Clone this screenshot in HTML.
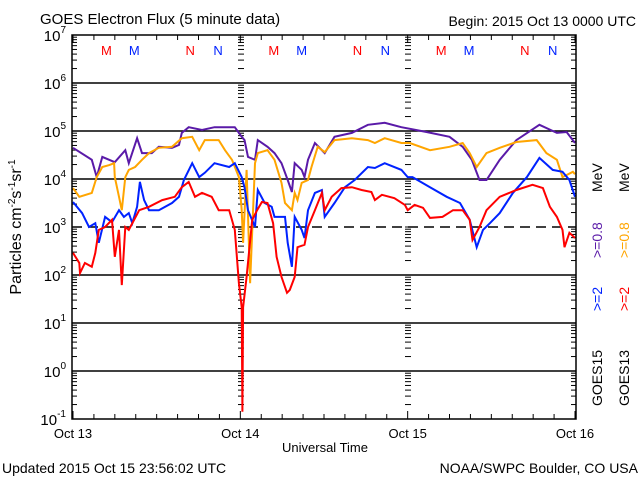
<!DOCTYPE html>
<html><head><meta charset="utf-8"><style>
html,body{margin:0;padding:0;background:#fff;}
svg{display:block;font-family:"Liberation Sans",sans-serif;}
</style></head><body>
<svg id="chart" width="640" height="480" viewBox="0 0 640 480" xmlns="http://www.w3.org/2000/svg">
<rect x="0" y="0" width="640" height="480" fill="#fff"/>
<text x="40" y="24" font-size="15">GOES Electron Flux (5 minute data)</text>
<text x="636" y="26" font-size="14" text-anchor="end">Begin: 2015 Oct 13 0000 UTC</text>
<g id="grid"></g>
<g id="ticks"></g>
<g id="series"></g>
<g id="marks"></g>
<rect x="72" y="35" width="504" height="384" fill="none" stroke="#000" stroke-width="1.5"/>
<g id="ylabels"></g>
<g id="xlabels"></g>
<text transform="translate(21,227) rotate(-90)" font-size="16" text-anchor="middle">Particles cm<tspan font-size="10" dy="-6">-2</tspan><tspan dy="6">s</tspan><tspan font-size="10" dy="-6">-1</tspan><tspan dy="6">sr</tspan><tspan font-size="10" dy="-6">-1</tspan></text>
<text x="325" y="452" font-size="13" text-anchor="middle">Universal Time</text>
<text x="2" y="473" font-size="14">Updated 2015 Oct 15 23:56:02 UTC</text>
<text x="638" y="473" font-size="14" text-anchor="end">NOAA/SWPC Boulder, CO USA</text>
<g font-size="14">
<text transform="translate(602,406) rotate(-90)">GOES15</text>
<text transform="translate(602,311) rotate(-90)" fill="#0022ff">&gt;=2</text>
<text transform="translate(602,258) rotate(-90)" fill="#5a1aa8">&gt;=0.8</text>
<text transform="translate(602,192) rotate(-90)">MeV</text>
<text transform="translate(629,406) rotate(-90)">GOES13</text>
<text transform="translate(629,311) rotate(-90)" fill="#ff0000">&gt;=2</text>
<text transform="translate(629,258) rotate(-90)" fill="#ffa500">&gt;=0.8</text>
<text transform="translate(629,192) rotate(-90)">MeV</text>
</g>
</svg>
<script>
const dayLabels = ["Oct 13","Oct 14","Oct 15","Oct 16"];
const decades = [-1,0,1,2,3,4,5,6,7];
const purpleHours = [0,2.7,3.4,4.2,6.0,7.5,8.0,9.2,9.9,11.3,12.3,14.2,15.2,15.6,16.6,18.5,20.3,23.2,24.2,24.6,25.1,26.1,26.5,27.9,28.9,29.9,30.8,31.4,31.8,32.8,33.2,33.7,34.7,36.1,37.5,40.0,42.3,44.7,47.1,50.7,54.0,55.9,57.2,58.3,59.3,61.2,63.6,66.9,69.4,70.8,72];
const purpleLog = [4.65,4.40,4.04,4.46,4.35,4.60,4.33,4.85,4.54,4.54,4.67,4.65,4.71,4.96,5.08,5.02,5.08,5.08,4.88,4.81,4.46,4.40,4.81,4.67,4.54,4.33,3.98,3.73,4.33,4.19,4.04,4.40,4.75,4.54,4.88,4.96,5.13,5.17,5.08,4.98,4.88,4.67,4.40,3.98,3.98,4.40,4.81,5.13,4.96,4.98,4.75];
const orangeHours = [0,0.9,2.7,3.4,4.2,5.2,5.9,6.0,6.6,7.0,7.5,8.0,8.9,9.9,10.9,12.3,14.2,15.6,17.1,18.1,18.9,20.9,21.8,22.8,23.8,24.2,24.4,24.9,25.4,26.1,26.5,27.9,28.9,29.9,30.4,31.4,31.8,32.2,32.8,33.7,34.2,35.1,36.1,37.5,40.0,42.3,43.3,44.7,47.1,48.3,51.2,54.0,55.9,56.9,57.9,59.3,61.2,63.6,66.5,67.9,69.4,70.2,71.7,72];
const orangeLog = [3.81,3.63,3.71,4.04,4.25,4.29,4.33,4.04,3.63,3.35,4.04,4.19,4.25,4.40,4.54,4.65,4.67,4.85,4.88,4.60,4.81,4.81,4.60,4.40,4.04,3.35,2.67,4.19,1.83,4.33,4.54,4.60,4.40,3.92,3.50,3.35,3.71,3.56,3.92,3.98,4.25,4.67,4.56,4.81,4.85,4.81,4.75,4.85,4.75,4.75,4.60,4.67,4.75,4.54,4.25,4.54,4.65,4.77,4.81,4.54,4.40,4.04,4.15,4.10];
const blueHours = [0,1.3,2.3,3.2,3.7,4.6,5.6,6.6,7.3,8.0,8.5,9.2,9.6,10.2,10.9,12.3,14.2,15.2,15.9,17.1,18.1,18.9,20.3,22.4,23.2,24.2,24.6,25.1,26.1,26.5,27.5,28.5,28.9,30.4,30.8,31.4,31.8,32.8,33.2,33.7,34.7,35.7,36.1,37.5,39.0,40.4,42.3,43.3,44.7,47.1,48.0,48.7,51.2,53.6,55.5,56.9,57.9,58.8,59.8,61.2,63.1,65.1,66.9,68.8,70.2,71.2,72];
const blueLog = [3.52,3.29,3.00,3.08,2.67,3.21,3.10,3.35,3.21,3.29,3.08,3.42,3.94,3.56,3.35,3.35,3.50,3.63,3.98,4.33,4.04,4.13,4.33,4.25,4.33,4.04,3.83,3.35,3.00,3.77,3.50,3.42,3.21,3.21,2.67,2.17,3.21,2.94,2.77,3.35,3.71,3.77,3.21,3.50,3.83,3.98,4.25,4.23,4.33,4.19,4.04,4.04,3.83,3.63,3.50,3.15,2.58,2.94,3.08,3.29,3.71,4.04,4.44,4.19,4.15,3.98,3.63];
const redHours = [0,0.9,1.0,1.7,2.7,3.2,3.7,4.6,5.6,6.0,6.6,7.0,7.5,8.0,9.5,10.9,12.8,14.6,15.6,16.6,17.5,18.5,19.9,20.9,22.4,23.2,23.8,24.2,24.3,24.4,24.9,25.7,26.4,27.1,27.9,28.7,29.2,29.9,30.7,31.1,31.8,32.2,33.2,33.7,34.7,35.7,36.1,37.1,38.5,40.0,41.4,42.8,43.3,44.3,46.1,47.6,48.0,49.0,50.2,51.2,53.0,54.5,55.9,56.9,57.3,58.3,59.3,61.2,63.6,65.9,67.4,68.4,69.4,70.2,70.5,71.2,72];
const redLog = [2.46,2.25,2.04,2.25,2.17,2.46,2.94,3.00,3.15,2.38,2.94,1.79,3.00,2.94,3.35,3.42,3.56,3.63,3.83,3.94,3.63,3.71,3.63,3.35,3.35,2.94,1.83,1.33,-0.85,1.33,1.96,3.15,3.35,3.52,3.50,3.08,2.38,1.96,1.63,1.69,1.96,2.58,2.63,3.00,3.35,3.71,3.35,3.63,3.81,3.83,3.77,3.73,3.56,3.67,3.60,3.46,3.35,3.46,3.40,3.19,3.21,3.35,3.35,3.15,2.73,3.00,3.35,3.63,3.77,3.88,3.81,3.42,3.21,2.94,2.58,2.88,2.77];

const NS = "http://www.w3.org/2000/svg";
const X0 = 73, X1 = 575, YTOP = 35, PXDEC = 48;
function xScale(h){ return X0 + (h/72)*(X1-X0); }
function yScale(l){ return YTOP + (7-l)*PXDEC; }
function mk(tag, attrs, parent){
  const e = document.createElementNS(NS, tag);
  for (const k in attrs) e.setAttribute(k, attrs[k]);
  parent.appendChild(e);
  return e;
}
const grid = document.getElementById('grid');
const ticks = document.getElementById('ticks');
const ylab = document.getElementById('ylabels');
const xlab = document.getElementById('xlabels');
const series = document.getElementById('series');
const marks = document.getElementById('marks');

decades.forEach(d => {
  const y = yScale(d);
  if (d > -1 && d < 7) {
    const g = mk('line', {x1:72, x2:576, y1:y, y2:y, stroke:'#000', 'stroke-width':1.5}, grid);
    if (d === 3) g.setAttribute('stroke-dasharray', '10,6');
    
    
  }
  const t = mk('text', {x:66, y:y+6, 'font-size':15, 'text-anchor':'end'}, ylab);
  
  
  t.textContent = '10';
  const s = mk('tspan', {'font-size':10, dy:-8}, t);
  s.textContent = String(d);
  if (d < 7) {
    for (let m = 2; m <= 9; m++) {
      const ym = y - Math.log10(m)*PXDEC;
      [[72,77],[571,576],[238,244],[405,411]].forEach(p => {
        mk('line', {x1:p[0], x2:p[1], y1:ym, y2:ym, stroke:'#000', 'stroke-width':1}, ticks);
      });
    }
    [[238,244],[405,411]].forEach(p => mk('line', {x1:p[0], x2:p[1], y1:y, y2:y, stroke:'#000', 'stroke-width':1}, ticks));
  }
});
for (let h = 0; h <= 72; h += 3) {
  const x = xScale(h);
  const len = (h % 24 === 0) ? 8 : 5;
  mk('line', {x1:x, x2:x, y1:419, y2:419-len, stroke:'#000', 'stroke-width':1}, ticks);
  mk('line', {x1:x, x2:x, y1:35, y2:35+len, stroke:'#000', 'stroke-width':1}, ticks);
}
dayLabels.forEach((lab, i) => {
  const t = mk('text', {x:xScale(i*24), y:438, 'font-size':13, 'text-anchor':'middle'}, xlab);
  
  
  t.textContent = lab;
});
const mnHours = [4.8, 8.8, 16.8, 20.8];
const mnText = ['M','M','N','N'];
const mnColor = ['#ff0000','#0022ff','#ff0000','#0022ff'];
for (let d = 0; d < 3; d++) {
  mnHours.forEach((h, i) => {
    const t = mk('text', {x:xScale(d*24+h), y:55, 'font-size':13, 'text-anchor':'middle', fill:mnColor[i]}, marks);
    
    
    t.textContent = mnText[i];
  });
}
function drawSeries(hours, vals, color, name){
  let d = '';
  for (let i = 0; i < hours.length; i++) {
    const x = xScale(hours[i]).toFixed(1), y = yScale(vals[i]).toFixed(1);
    d += (i ? 'L' : 'M') + x + ',' + y;
  }
  const p = mk('path', {d:d, fill:'none', stroke:color, 'stroke-width':2, 'stroke-linejoin':'miter'}, series);
  
  
}
drawSeries(purpleHours, purpleLog, '#5a1aa8', 'series-goes15-08mev');
drawSeries(orangeHours, orangeLog, '#ffa500', 'series-goes13-08mev');
drawSeries(blueHours, blueLog, '#0022ff', 'series-goes15-2mev');
drawSeries(redHours, redLog, '#ff0000', 'series-goes13-2mev');
</script>
</body></html>
